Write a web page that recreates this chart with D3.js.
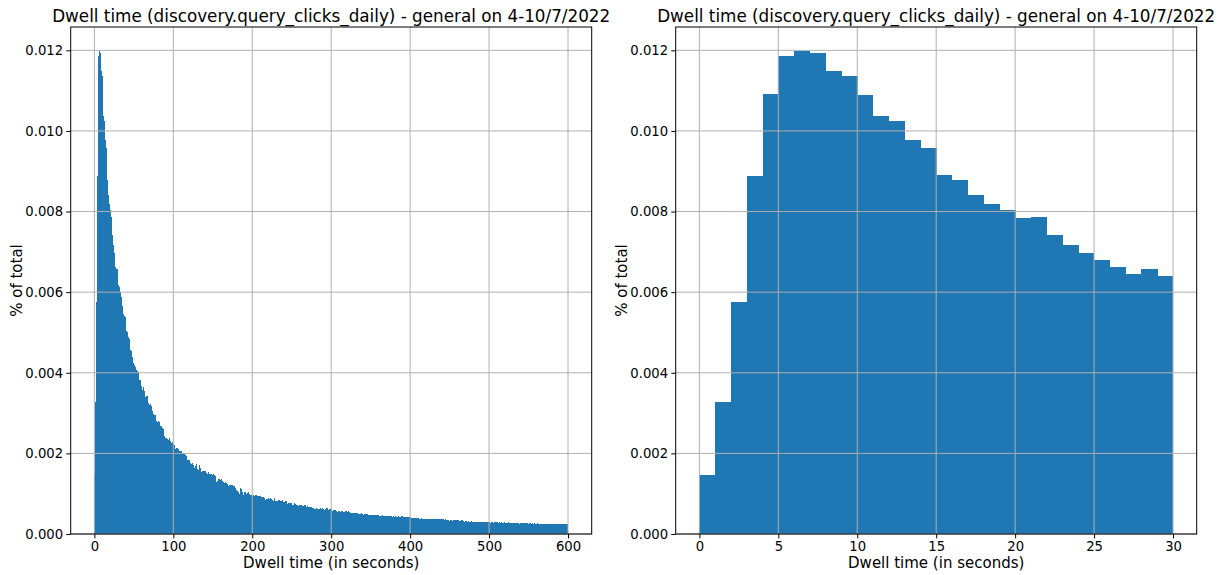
<!DOCTYPE html>
<html>
<head>
<meta charset="utf-8">
<script src="https://cdn.jsdelivr.net/npm/d3@7/dist/d3.min.js"></script>
<style>
  body { margin: 0; background: #ffffff; }
  text { font-family: 'DejaVu Sans', sans-serif; fill: #000000; }
</style>
</head>
<body>
<svg id="chart" width="1225" height="575"></svg>
<script>
const titleText = 'Dwell time (discovery.query_clicks_daily) - general on 4-10/7/2022';
const xLabelText = 'Dwell time (in seconds)';
const yLabelText = '% of total';

// share of clicks per 1-second bin (0..600 s), in thousandths
const shareMilli = [
    1.47, 3.28, 5.75, 8.87, 10.92, 11.86, 11.98, 11.94, 11.49, 11.36,
    10.89, 10.37, 10.25, 9.77, 9.57, 8.90, 8.78, 8.40, 8.18, 8.05,
    7.83, 7.86, 7.41, 7.16, 6.96, 6.81, 6.62, 6.45, 6.58, 6.40,
    6.18, 6.14, 6.01, 5.89, 5.80, 5.65, 5.45, 5.41, 5.38, 5.10,
    5.04, 5.00, 4.88, 4.83, 4.65, 4.57, 4.53, 4.40, 4.32, 4.25,
    4.20, 4.14, 4.07, 4.06, 4.05, 4.03, 3.74, 3.81, 3.70, 3.66,
    3.58, 3.64, 3.55, 3.49, 3.41, 3.37, 3.43, 3.34, 3.25, 3.20,
    3.23, 3.18, 3.16, 3.04, 2.97, 2.95, 2.93, 2.96, 2.81, 2.79,
    2.80, 2.78, 2.75, 2.67, 2.68, 2.62, 2.63, 2.60, 2.42, 2.38,
    2.39, 2.36, 2.35, 2.33, 2.38, 2.29, 2.30, 2.27, 2.29, 2.21,
    2.20, 2.15, 2.10, 2.14, 2.13, 2.12, 2.10, 2.07, 2.04, 2.07,
    2.05, 2.02, 2.00, 1.99, 1.95, 1.96, 1.94, 1.84, 1.84, 1.82,
    1.83, 1.77, 1.74, 1.71, 1.77, 1.70, 1.63, 1.69, 1.60, 1.73,
    1.62, 1.59, 1.70, 1.59, 1.63, 1.55, 1.57, 1.54, 1.57, 1.55,
    1.56, 1.51, 1.50, 1.44, 1.53, 1.49, 1.48, 1.47, 1.49, 1.46,
    1.48, 1.46, 1.45, 1.36, 1.30, 1.31, 1.33, 1.36, 1.32, 1.34,
    1.36, 1.31, 1.29, 1.28, 1.26, 1.29, 1.27, 1.22, 1.24, 1.20,
    1.22, 1.21, 1.18, 1.21, 1.22, 1.20, 1.19, 1.13, 1.14, 1.08,
    1.07, 1.05, 1.03, 1.00, 1.14, 1.12, 1.10, 1.03, 0.97, 1.03,
    1.00, 1.05, 1.00, 1.02, 1.05, 0.99, 0.97, 0.97, 0.96, 0.94,
    0.93, 0.97, 0.95, 0.96, 0.94, 0.97, 0.95, 0.94, 0.95, 0.89,
    0.95, 0.91, 0.93, 0.91, 0.90, 0.87, 0.85, 0.86, 0.85, 0.87,
    0.89, 0.88, 0.89, 0.85, 0.86, 0.85, 0.82, 0.89, 0.83, 0.81,
    0.81, 0.83, 0.84, 0.85, 0.85, 0.81, 0.82, 0.81, 0.85, 0.79,
    0.80, 0.79, 0.81, 0.80, 0.74, 0.77, 0.78, 0.76, 0.77, 0.76,
    0.72, 0.73, 0.72, 0.76, 0.75, 0.72, 0.73, 0.71, 0.70, 0.71,
    0.72, 0.73, 0.71, 0.70, 0.69, 0.72, 0.71, 0.72, 0.68, 0.69,
    0.67, 0.68, 0.67, 0.66, 0.67, 0.65, 0.64, 0.65, 0.62, 0.63,
    0.62, 0.64, 0.63, 0.62, 0.61, 0.62, 0.64, 0.63, 0.64, 0.62,
    0.61, 0.60, 0.61, 0.60, 0.64, 0.63, 0.60, 0.61, 0.60, 0.62,
    0.62, 0.58, 0.59, 0.58, 0.60, 0.59, 0.57, 0.55, 0.56, 0.55,
    0.56, 0.55, 0.54, 0.56, 0.55, 0.54, 0.55, 0.56, 0.57, 0.54,
    0.55, 0.56, 0.54, 0.53, 0.52, 0.53, 0.52, 0.51, 0.53, 0.52,
    0.51, 0.52, 0.53, 0.51, 0.50, 0.49, 0.50, 0.49, 0.51, 0.49,
    0.48, 0.50, 0.49, 0.48, 0.49, 0.50, 0.48, 0.47, 0.48, 0.47,
    0.46, 0.48, 0.47, 0.46, 0.48, 0.47, 0.45, 0.47, 0.46, 0.47,
    0.45, 0.44, 0.45, 0.44, 0.46, 0.44, 0.43, 0.44, 0.45, 0.43,
    0.44, 0.43, 0.45, 0.44, 0.42, 0.44, 0.43, 0.43, 0.44, 0.42,
    0.43, 0.44, 0.42, 0.43, 0.45, 0.43, 0.42, 0.43, 0.42, 0.44,
    0.43, 0.42, 0.43, 0.41, 0.42, 0.43, 0.42, 0.41, 0.42, 0.41,
    0.40, 0.39, 0.40, 0.39, 0.38, 0.39, 0.40, 0.38, 0.39, 0.38,
    0.39, 0.38, 0.37, 0.38, 0.39, 0.38, 0.37, 0.38, 0.37, 0.38,
    0.37, 0.36, 0.37, 0.38, 0.36, 0.37, 0.36, 0.37, 0.36, 0.37,
    0.36, 0.37, 0.36, 0.38, 0.38, 0.37, 0.38, 0.37, 0.36, 0.37,
    0.36, 0.37, 0.36, 0.35, 0.36, 0.35, 0.34, 0.33, 0.34, 0.33,
    0.34, 0.33, 0.34, 0.33, 0.34, 0.35, 0.34, 0.33, 0.34, 0.34,
    0.33, 0.34, 0.33, 0.32, 0.33, 0.34, 0.33, 0.32, 0.31, 0.32,
    0.31, 0.32, 0.31, 0.32, 0.31, 0.30, 0.31, 0.32, 0.31, 0.30,
    0.31, 0.30, 0.31, 0.30, 0.31, 0.30, 0.29, 0.30, 0.31, 0.29,
    0.30, 0.29, 0.29, 0.28, 0.29, 0.28, 0.29, 0.28, 0.29, 0.28,
    0.29, 0.28, 0.30, 0.28, 0.29, 0.28, 0.29, 0.28, 0.29, 0.28,
    0.29, 0.28, 0.29, 0.28, 0.28, 0.29, 0.28, 0.27, 0.28, 0.29,
    0.28, 0.28, 0.27, 0.28, 0.29, 0.28, 0.27, 0.28, 0.27, 0.28,
    0.27, 0.28, 0.27, 0.28, 0.27, 0.27, 0.28, 0.27, 0.26, 0.27,
    0.27, 0.26, 0.27, 0.28, 0.27, 0.26, 0.27, 0.26, 0.27, 0.26,
    0.27, 0.26, 0.27, 0.26, 0.27, 0.26, 0.26, 0.27, 0.26, 0.25,
    0.26, 0.27, 0.26, 0.26, 0.25, 0.26, 0.25, 0.26, 0.25, 0.26,
    0.25, 0.26, 0.25, 0.26, 0.25, 0.26, 0.25, 0.26, 0.25, 0.25,
    0.26, 0.25, 0.26, 0.25, 0.26, 0.25, 0.26, 0.25, 0.26, 0.25,
    0.26, 0.25, 0.26, 0.25, 0.26, 0.25, 0.26, 0.25, 0.26, 0.25
];

const yTicks = [0, 0.002, 0.004, 0.006, 0.008, 0.010, 0.012];
const xTicksFull = [0, 100, 200, 300, 400, 500, 600];
const xTicksZoom = [0, 5, 10, 15, 20, 25, 30];
const zoomSeconds = 30;

const barColor = '#1f77b4';
const gridColor = '#b0b0b0';

// Draws one histogram panel (1-second bins) with its left edge at `left`
function createHistogram(svg, values, xTicks, left) {
    const width = 521;
    const top = 27;
    const height = 507;

    const bins = values.map((v, i) => ({ start: i, end: i + 1, value: v / 1000 }));

    const pad = bins.length * 0.05;
    const xScale = d3.scaleLinear()
                     .domain([-pad, bins.length + pad])
                     .range([0, width]);

    const yScale = d3.scaleLinear()
                     .domain([0, d3.max(bins, d => d.value) * 1.05])
                     .range([height, 0]);

    const g = svg.append('g')
                 .attr('transform', `translate(${left},${top})`);

    // bars, snapped to pixels so neighbouring bins don't leave seams
    g.append('g')
     .attr('shape-rendering', 'crispEdges')
     .selectAll('rect')
     .data(bins)
     .enter()
     .append('rect')
     .attr('x', d => xScale(d.start))
     .attr('y', d => yScale(d.value))
     .attr('width', (d, i) => xScale(d.end) - xScale(d.start) + (i < bins.length - 1 ? 0.4 : 0))
     .attr('height', d => height - yScale(d.value))
     .attr('fill', barColor);

    // grid sits above the bars, like matplotlib's default
    g.selectAll('line.vgrid')
     .data(xTicks)
     .enter()
     .append('line')
     .attr('x1', d => xScale(d))
     .attr('x2', d => xScale(d))
     .attr('y1', 0)
     .attr('y2', height)
     .attr('stroke', gridColor)
     .attr('stroke-width', 1);

    g.selectAll('line.hgrid')
     .data(yTicks)
     .enter()
     .append('line')
     .attr('x1', 0)
     .attr('x2', width)
     .attr('y1', d => yScale(d))
     .attr('y2', d => yScale(d))
     .attr('stroke', gridColor)
     .attr('stroke-width', 1);

    // X axis
    const xAxis = g.append('g')
                   .attr('transform', `translate(0,${height})`)
                   .call(d3.axisBottom(xScale)
                       .tickValues(xTicks)
                       .tickFormat(d3.format('d'))
                       .tickSize(4.4)
                       .tickPadding(3.6));
    xAxis.select('.domain').remove();
    xAxis.selectAll('text').style('font-size', '13.2px');

    // Y axis
    const yAxis = g.append('g')
                   .call(d3.axisLeft(yScale)
                       .tickValues(yTicks)
                       .tickFormat(d3.format('.3f'))
                       .tickSize(4.4)
                       .tickPadding(3.2));
    yAxis.select('.domain').remove();
    yAxis.selectAll('text').style('font-size', '13.2px');

    // spines
    g.append('rect')
     .attr('x', 0)
     .attr('y', 0)
     .attr('width', width)
     .attr('height', height)
     .attr('fill', 'none')
     .attr('stroke', '#000000')
     .attr('stroke-width', 1);

    // title and labels
    g.append('text')
     .attr('x', width / 2)
     .attr('y', -5.5)
     .style('text-anchor', 'middle')
     .style('font-size', '16.8px')
     .text(titleText);

    g.append('text')
     .attr('x', width / 2)
     .attr('y', height + 33.5)
     .style('text-anchor', 'middle')
     .style('font-size', '15px')
     .text(xLabelText);

    g.append('text')
     .attr('transform', 'rotate(-90)')
     .attr('x', -height / 2)
     .attr('y', -48.7)
     .style('text-anchor', 'middle')
     .style('font-size', '15px')
     .text(yLabelText);
}

document.addEventListener('DOMContentLoaded', () => {
    const svg = d3.select('#chart');
    createHistogram(svg, shareMilli, xTicksFull, 70.7);
    createHistogram(svg, shareMilli.slice(0, zoomSeconds), xTicksZoom, 675.7);
});
</script>
</body>
</html>
